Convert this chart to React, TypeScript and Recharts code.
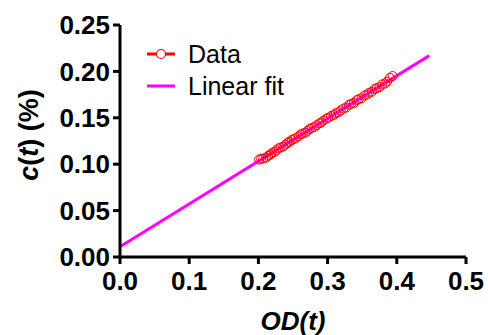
import React from 'react';
import { ComposedChart, Scatter, Line, XAxis, YAxis, Label } from 'recharts';

const odValues = [0.201, 0.204, 0.207, 0.211, 0.214, 0.217, 0.219, 0.223, 0.226, 0.229, 0.232, 0.236, 0.239, 0.242, 0.245, 0.248, 0.251, 0.254, 0.258, 0.261, 0.264, 0.268, 0.271, 0.274, 0.277, 0.281, 0.284, 0.288, 0.291, 0.294, 0.298, 0.301, 0.305, 0.309, 0.312, 0.316, 0.319, 0.323, 0.327, 0.331, 0.334, 0.338, 0.342, 0.345, 0.349, 0.353, 0.357, 0.360, 0.364, 0.368, 0.371, 0.375, 0.379, 0.383, 0.386, 0.390, 0.394];
const cValues = [0.105, 0.106, 0.106, 0.107, 0.109, 0.110, 0.112, 0.113, 0.115, 0.117, 0.118, 0.119, 0.121, 0.123, 0.124, 0.126, 0.127, 0.128, 0.130, 0.132, 0.133, 0.134, 0.136, 0.138, 0.139, 0.140, 0.142, 0.144, 0.145, 0.147, 0.149, 0.150, 0.152, 0.153, 0.155, 0.156, 0.158, 0.160, 0.161, 0.164, 0.165, 0.166, 0.169, 0.170, 0.171, 0.174, 0.175, 0.177, 0.178, 0.181, 0.182, 0.183, 0.186, 0.187, 0.189, 0.193, 0.195];
const fitX = [0, 0.447];
const fitY = [0.011, 0.217];
const xTicks = [0, 0.1, 0.2, 0.3, 0.4, 0.5];
const yTicks = [0, 0.05, 0.1, 0.15, 0.2, 0.25];

const dataPts = odValues.map((x, i) => ({ x, y: cValues[i] }));
const fitPts = fitX.map((x, i) => ({ x, y: fitY[i] }));

const FONT = '"Liberation Sans", Arial, sans-serif';
const tickStyle = { fontSize: 26, fontWeight: 'bold', fill: '#000', fontFamily: FONT };

const LegendBox = () => (
  <div style={{ position: 'absolute', left: 147, top: 38, fontFamily: FONT, fontSize: 25, color: '#000', lineHeight: '32px' }}>
    <div style={{ display: 'flex', alignItems: 'center' }}>
      <svg width={41} height={32}>
        <line x1={0} y1={16} x2={28} y2={16} stroke="#ff0000" strokeWidth={3} />
        <circle cx={14} cy={16} r={4.5} fill="#fff" stroke="#ff0000" strokeWidth={1.2} />
      </svg>
      <span>Data</span>
    </div>
    <div style={{ display: 'flex', alignItems: 'center' }}>
      <svg width={41} height={32}>
        <line x1={0} y1={16} x2={28} y2={16} stroke="#ff00ff" strokeWidth={3} />
      </svg>
      <span>Linear fit</span>
    </div>
  </div>
);

export default function App() {
  return (
    <div style={{ position: 'absolute', left: 0, top: 0, width: 488, height: 335, background: '#fff' }}>
      <ComposedChart width={488} height={335} margin={{ top: 25, right: 22, bottom: 0, left: 0 }}>
        <XAxis
          type="number"
          dataKey="x"
          domain={[0, 0.5]}
          ticks={xTicks}
          tickFormatter={(v: number) => v.toFixed(1)}
          tick={tickStyle}
          height={78}
          stroke="#000"
          strokeWidth={3}
          tickSize={7}
          tickMargin={8}
          allowDataOverflow
        >
          <Label
            content={() => (
              <text x={293} y={330} textAnchor="middle" fontFamily={FONT} fontSize={26} fontWeight="bold" fontStyle="italic" fill="#000">
                OD(<tspan>t</tspan>)
              </text>
            )}
          />
        </XAxis>
        <YAxis
          type="number"
          dataKey="y"
          domain={[0, 0.25]}
          ticks={yTicks}
          tickFormatter={(v: number) => v.toFixed(2)}
          tick={tickStyle}
          width={120}
          stroke="#000"
          strokeWidth={3}
          tickSize={7}
          tickMargin={3}
          allowDataOverflow
        >
          <Label
            content={() => (
              <text x={38} y={135} textAnchor="middle" transform="rotate(-90 38 135)" fontFamily={FONT} fontSize={27} fontWeight="bold" fill="#000">
                <tspan fontStyle="italic">c</tspan>(<tspan fontStyle="italic">t</tspan>) (%)
              </text>
            )}
          />
        </YAxis>
        <Line
          data={fitPts}
          dataKey="y"
          type="linear"
          stroke="#ff00ff"
          strokeWidth={3}
          dot={false}
          isAnimationActive={false}
        />
        <Scatter
          data={dataPts}
          dataKey="y"
          isAnimationActive={false}
          shape={(p: any) => <circle cx={p.cx} cy={p.cy} r={4.5} fill="none" stroke="#ff0000" strokeWidth={1} />}
        />
      </ComposedChart>
      <LegendBox />
    </div>
  );
}
